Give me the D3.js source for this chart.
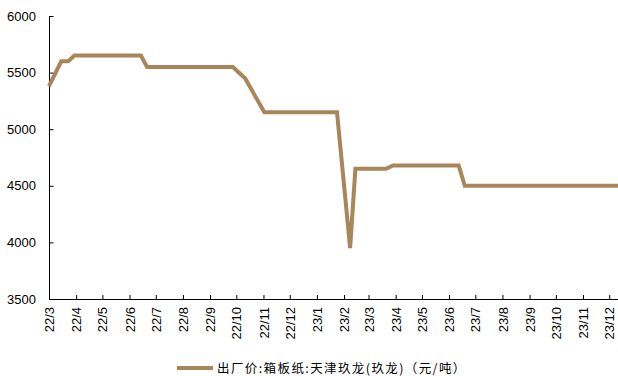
<!DOCTYPE html>
<html><head><meta charset="utf-8">
<script src="https://cdn.jsdelivr.net/npm/d3@7"></script>
<style>body{margin:0;background:#fff}svg{display:block}</style>
</head><body>
<svg id="c" width="618" height="376"></svg>
<script>
// Data (change points of the price series)
const dates = ["2022-03-01","2022-03-15","2022-03-23","2022-03-30","2022-06-14","2022-06-21","2022-09-27","2022-10-11","2022-11-02","2023-01-24","2023-02-08","2023-02-14","2023-03-21","2023-03-29","2023-06-12","2023-06-19","2023-12-11"];
const prices = [5380,5600,5600,5650,5650,5550,5550,5450,5150,5150,3950,4650,4650,4680,4680,4500,4500];
const yTicks = [3500,4000,4500,5000,5500,6000];
const monthTicks = ["2022-03-01","2022-04-01","2022-05-01","2022-06-01","2022-07-01","2022-08-01","2022-09-01","2022-10-01","2022-11-01","2022-12-01","2023-01-01","2023-02-01","2023-03-01","2023-04-01","2023-05-01","2023-06-01","2023-07-01","2023-08-01","2023-09-01","2023-10-01","2023-11-01","2023-12-01"];
const seriesName = "出厂价:箱板纸:天津玖龙(玖龙)（元/吨）";

const parse = d3.timeParse("%Y-%m-%d");
const data = dates.map((d,i)=>({date:parse(d), v:prices[i]}));
const svg = d3.select("#c");
const x = d3.scaleTime().domain([parse("2022-03-01"), parse("2023-12-11")]).range([49,618]);
const y = d3.scaleLinear().domain([3500,6000]).range([299,16]);
const color = "#A9855A";
const fmt = d3.timeFormat("%y/%-m");

// y axis
const ya = svg.append("g").attr("transform","translate(49,0)")
  .call(d3.axisRight(y).tickValues(yTicks).tickSize(4).tickFormat(d3.format("d")));
ya.select(".domain").attr("d","M0.5,16V299.5").attr("stroke","#000");
ya.selectAll(".tick line").attr("stroke","#000").attr("transform","translate(0.5,0)");
ya.selectAll(".tick text").attr("x",-13).attr("text-anchor","end")
  .style("font-family","Liberation Sans, Arial, sans-serif").style("font-size","13px").attr("fill","#000");

// x axis
const xa = svg.append("g").attr("transform","translate(0,299)")
  .call(d3.axisTop(x).tickValues(monthTicks.map(parse)).tickSize(4).tickFormat(fmt));
xa.select(".domain").attr("d","M49,0.5H618").attr("stroke","#000");
xa.selectAll(".tick line").attr("stroke","#000");
xa.selectAll(".tick text").attr("transform","rotate(-90)").attr("x",-8).attr("y",0).attr("dy","0.35em")
  .attr("text-anchor","end")
  .style("font-family","Liberation Sans, Arial, sans-serif").style("font-size","13px").attr("fill","#000");

// line
svg.append("path").datum(data)
  .attr("fill","none").attr("stroke",color).attr("stroke-width",4).attr("stroke-linejoin","miter")
  .attr("d", d3.line().x(d=>x(d.date)).y(d=>y(d.v)));

// legend
const lg = svg.append("g");
lg.append("line").attr("x1",177).attr("x2",213).attr("y1",368).attr("y2",368)
  .attr("stroke",color).attr("stroke-width",4);
lg.append("text").attr("x",217).attr("y",372.5).text(seriesName)
  .style("font-family","Noto Sans CJK SC, sans-serif").style("font-size","12.5px")
  .style("letter-spacing","1.4px").attr("fill","#000");
</script>
</body></html>
